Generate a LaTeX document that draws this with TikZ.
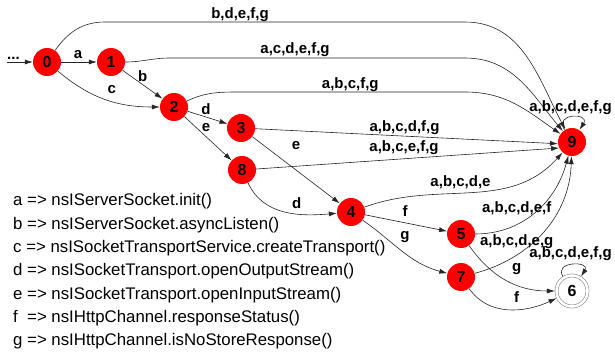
\documentclass[tikz,border=0pt]{standalone}
\usepackage{fontspec}
\setmainfont{Liberation Sans}
\usetikzlibrary{arrows.meta}

\tikzset{
  fsmnode/.style={circle, fill=red, minimum size=28pt, inner sep=0pt,
    font=\fontsize{16}{16}\selectfont\bfseries},
  finalnode/.style={circle, draw=black!55, line width=0.5pt, double,
    double distance=2.6pt, minimum size=31pt, inner sep=0pt, outer sep=1.6pt,
    font=\fontsize{16}{16}\selectfont\bfseries},
  trans/.style={->, >={Latex[length=8pt,width=5pt]}, line width=0.6pt, black!85},
  lbl/.style={font=\fontsize{15}{15}\selectfont\bfseries, inner sep=0pt, black},
  keyline/.style={anchor=west, inner sep=0pt, font=\fontsize{16.8}{16.8}\selectfont}
}

\begin{document}
\begin{tikzpicture}[x=1pt,y=1pt]
        \useasboundingbox (0,0) rectangle (615,362);
        % states
        \node[fsmnode] (n0) at (47,300) {0};
        \node[fsmnode] (n1) at (111,300) {1};
        \node[fsmnode] (n2) at (174,255) {2};
        \node[fsmnode] (n3) at (241,234) {3};
        \node[fsmnode] (n8) at (242,192) {8};
        \node[fsmnode] (n4) at (351,150) {4};
        \node[fsmnode] (n5) at (461,128) {5};
        \node[fsmnode] (n7) at (461,85) {7};
        \node[fsmnode] (n9) at (572,220) {9};
        \node[finalnode] (n6) at (572,71) {6};

        % entry
        \coordinate (entry) at (7,300);
        \node[lbl, anchor=base west] (dots) at (7,302) {...};
        \draw[trans] (entry) -- (n0);

        % transitions
        \draw[trans] (n0) -- (n1) node[lbl] at (78,307) {a};
        \draw[trans] (n0) to[out=55,in=180] (105,340) -- (465,340) to[out=0,in=118] (n9) node[lbl] at (240,347.5) {b,d,e,f,g};
        \draw[trans] (n1) to[out=0,in=180] (170,304) -- (465,304) to[out=0,in=130] (n9) node[lbl] at (295,312) {a,c,d,e,f,g};
        \draw[trans] (n0) to[out=-40,in=180] (n2) node[lbl] at (111.7,272.7) {c};
        \draw[trans] (n1) -- (n2) node[lbl] at (142.7,286) {b};
        \draw[trans] (n2) to[out=25,in=180] (240,270) -- (465,270) to[out=0,in=145] (n9) node[lbl] at (350.3,277.5) {a,b,c,f,g};
        \draw[trans] (n2) -- (n3) node[lbl] at (206,253) {d};
        \draw[trans] (n2) -- (n8) node[lbl] at (206,234.3) {e};
        \draw[trans] (n3) -- (n9.187) node[lbl] at (404.5,234.5) {a,b,c,d,f,g};
        \draw[trans] (n8) -- (n9.205) node[lbl] at (404,214) {a,b,c,e,f,g};
        \draw[trans] (n3) -- (n4) node[lbl] at (296,216) {e};
        \draw[trans] (n8) to[out=-65,in=185] (n4) node[lbl] at (296.7,158.7) {d};
        \draw[trans] (n4) to[out=20,in=228] (n9) node[lbl] at (460.5,180) {a,b,c,d,e};
        \draw[trans] (n4) -- (n5) node[lbl] at (405,151.3) {f};
        \draw[trans] (n4) to[out=-35,in=165] (n7) node[lbl] at (405,125.3) {g};
        \draw[trans] (n5) to[out=0,in=255] (n9) node[lbl] at (516.7,153.5) {a,b,c,d,e,f};
        \draw[trans] (n7) to[out=15,in=268] (n9) node[lbl] at (516.7,120.3) {a,b,c,d,e,g};
        \draw[trans] (n5) to[out=-55,in=180] (n6) node[lbl] at (516.7,92.7) {g};
        \draw[trans] (n7) to[out=-55,in=205] (n6) node[lbl] at (516.7,65.3) {f};
        \draw[trans] (n9) to[out=122,in=58,looseness=3.5] (n9) node[lbl] at (570.5,254.5) {a,b,c,d,e,f,g};
        \draw[trans] (n6) to[out=122,in=58,looseness=2.6] (n6) node[lbl] at (570.5,108) {a,b,c,d,e,f,g};

        % key
        \node[keyline] (ka) at (13,160.5) {a => nsIServerSocket.init()};
        \node[keyline] (kb) at (13,137.3) {b => nsIServerSocket.asyncListen()};
        \node[keyline] (kc) at (13,114) {c => nsISocketTransportService.createTransport()};
        \node[keyline] (kd) at (13,90.7) {d => nsISocketTransport.openOutputStream()};
        \node[keyline] (ke) at (13,67.3) {e => nsISocketTransport.openInputStream()};
        \node[keyline] (kf) at (13,44) {f\ \ => nsIHttpChannel.responseStatus()};
        \node[keyline] (kg) at (13,20.7) {g => nsIHttpChannel.isNoStoreResponse()};
\end{tikzpicture}
\end{document}
